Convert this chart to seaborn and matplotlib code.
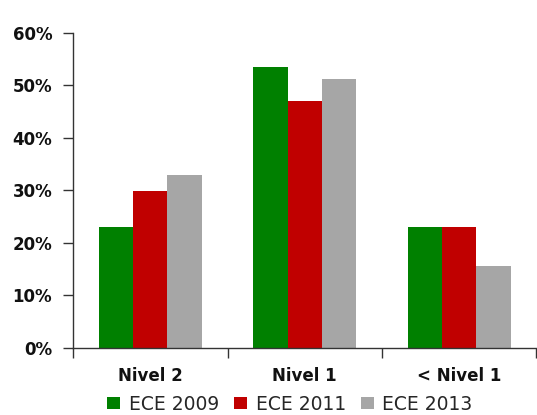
import numpy as np
import seaborn as sns
import matplotlib.pyplot as plt
import pandas as pd
from matplotlib.ticker import FixedLocator, FuncFormatter

niveles = ["Nivel 2", "Nivel 1", "< Nivel 1"]
series = ["ECE 2009", "ECE 2011", "ECE 2013"]
ece_2009 = [23.0, 53.5, 23.1]
ece_2011 = [29.8, 47.1, 23.1]
ece_2013 = [32.9, 51.2, 15.6]
colores = ["#008000", "#C00000", "#A6A6A6"]

df = pd.DataFrame({
    "nivel": niveles * 3,
    "prueba": [s for s in series for _ in niveles],
    "valor": ece_2009 + ece_2011 + ece_2013,
})

sns.set_style("white")
plt.rcParams['font.family'] = ['DejaVu Sans']

fig = plt.figure(figsize=(5.37, 4.15), dpi=100)
ax = fig.add_axes([0.136, 0.162, 0.863, 0.7585])

sns.barplot(data=df, x="nivel", y="valor", hue="prueba", order=niveles,
            hue_order=series, palette=colores, saturation=1, width=0.667, gap=0,
            edgecolor="none", linewidth=0, ax=ax, legend=True)

ax.set_xlim(-0.5, 2.5)
ax.set_ylim(0, 60)
ax.set_yticks(np.arange(0, 61, 10))
ax.yaxis.set_major_formatter(FuncFormatter(lambda v, p: f"{v:.0f}%"))
ax.xaxis.set_minor_locator(FixedLocator([-0.5, 0.5, 1.5, 2.5]))
ax.tick_params(axis="x", which="major", length=0, pad=14, labelsize=12)
ax.tick_params(axis="x", which="minor", length=7, width=1, color="#333333", direction="out")
ax.tick_params(axis="y", length=7, width=1, color="#333333", direction="out", pad=8, labelsize=12)
ax.tick_params(bottom=True, left=True, which="both")
for lab in ax.get_xticklabels() + ax.get_yticklabels():
    lab.set_fontweight("bold")
    lab.set_color("#111111")

ax.set_xlabel("")
ax.set_ylabel("")
sns.despine(ax=ax)
for s in ["left", "bottom"]:
    ax.spines[s].set_color("#333333")
    ax.spines[s].set_linewidth(1)

handles, labels = ax.get_legend_handles_labels()
ax.get_legend().remove()
fig.legend(handles, labels, loc="lower center", bbox_to_anchor=(0.54, -0.015), ncol=3,
           frameon=False, fontsize=13.5, handlelength=0.7, handleheight=0.6,
           handletextpad=0.45, columnspacing=0.8, borderaxespad=0)

fig.savefig("out.png", dpi=100)
